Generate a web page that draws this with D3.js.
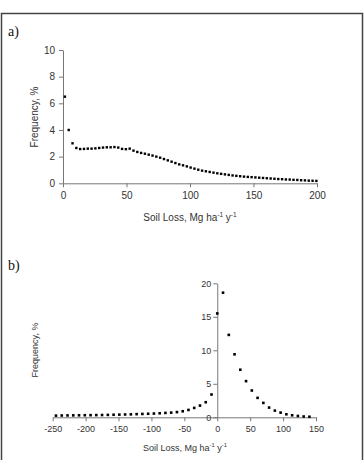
<!DOCTYPE html>
<html>
<head>
<meta charset="utf-8">
<script src="https://cdn.jsdelivr.net/npm/d3@7"></script>
<style>
  body { margin: 0; background: #fff; }
  .tick text { fill: #333; font-family: "Liberation Sans", Arial, sans-serif; }
  .domain, .tick line { stroke: #777; }
  .title { fill: #333; font-family: "Liberation Sans", Arial, sans-serif; }
  .panel-label { fill: #111; font-family: "Liberation Serif", "Times New Roman", serif; font-size: 14px; }
</style>
</head>
<body>
<div id="chart"></div>
<script>
const WIDTH = 364;
const HEIGHT = 460;

// a) soil loss frequency, bin centres (Mg ha-1 y-1) and frequency (%)
const lossA = [1.5, 4.5, 7.5, 10.5, 13.5, 16.5, 19.5, 22.5, 25.5, 28.5, 31.5, 34.5, 37.5, 40.5, 43.5,
  46.5, 49.5, 52.5, 55.5, 58.5, 61.5, 64.5, 67.5, 70.5, 73.5, 76.5, 79.5, 82.5, 85.5, 88.5, 91.5,
  94.5, 97.5, 100.5, 103.5, 106.5, 109.5, 112.5, 115.5, 118.5, 121.5, 124.5, 127.5, 130.5, 133.5,
  136.5, 139.5, 142.5, 145.5, 148.5, 151.5, 154.5, 157.5, 160.5, 163.5, 166.5, 169.5, 172.5, 175.5,
  178.5, 181.5, 184.5, 187.5, 190.5, 193.5, 196.5, 199.5];
const freqA = [6.5, 4.0, 3.0, 2.65, 2.57, 2.58, 2.6, 2.6, 2.62, 2.65, 2.68, 2.7, 2.7, 2.72, 2.68,
  2.58, 2.56, 2.6, 2.45, 2.35, 2.28, 2.22, 2.15, 2.08, 2.0, 1.92, 1.82, 1.72, 1.62, 1.52, 1.42,
  1.35, 1.27, 1.18, 1.1, 1.02, 0.95, 0.9, 0.85, 0.8, 0.75, 0.71, 0.67, 0.63, 0.59,
  0.56, 0.53, 0.5, 0.48, 0.46, 0.44, 0.42, 0.4, 0.38, 0.36, 0.34, 0.32, 0.31, 0.29,
  0.28, 0.26, 0.25, 0.23, 0.22, 0.2, 0.19, 0.18];

// b) soil loss frequency including deposition (negative values)
const lossB = [-245, -236.25, -227.5, -218.75, -210, -201.25, -192.5, -183.75, -175, -166.25,
  -157.5, -148.75, -140, -131.25, -122.5, -113.75, -105, -96.25, -87.5, -78.75, -70, -61.25,
  -52.5, -43.75, -35, -26.25, -17.5, -8.75, 0, 8.75, 17.5, 26.25, 35, 43.75, 52.5, 61.25, 70,
  78.75, 87.5, 96.25, 105, 113.75, 122.5, 131.25, 140];
const freqB = [0.25, 0.27, 0.28, 0.29, 0.3, 0.31, 0.32, 0.33, 0.34, 0.36,
  0.38, 0.4, 0.42, 0.44, 0.47, 0.5, 0.53, 0.56, 0.6, 0.65, 0.7, 0.78,
  0.9, 1.1, 1.4, 1.75, 2.25, 3.4, 15.5, 18.6, 12.3, 9.4, 7.1, 5.4, 4.0, 2.9, 2.15,
  1.45, 1.0, 0.7, 0.45, 0.3, 0.2, 0.12, 0.08];

const ticksAX = [0, 50, 100, 150, 200];
const ticksAY = [0, 2, 4, 6, 8, 10];
const ticksBX = [-250, -200, -150, -100, -50, 0, 50, 100, 150];
const ticksBY = [0, 5, 10, 15, 20];

// plain hyphen for negatives, like the original spreadsheet chart
const plain = d => String(d);

function setCanvas() {
  let svg = d3.select("#chart")
    .append("svg")
    .attr("width", WIDTH)
    .attr("height", HEIGHT);

  // frame round both panels
  svg.append("rect")
    .attr("x", 1.5).attr("y", 13.5)
    .attr("width", 361).attr("height", 460)
    .attr("fill", "none")
    .attr("stroke", "#444")
    .attr("stroke-width", 1.5);
  return svg;
}

// x title with superscripts: Soil Loss, Mg ha-1 y-1
function xTitle(g, x, y, size) {
  let t = g.append("text")
    .attr("class", "title")
    .attr("x", x).attr("y", y)
    .attr("text-anchor", "middle")
    .style("font-size", size + "px");
  t.append("tspan").text("Soil Loss, Mg ha");
  t.append("tspan").attr("dy", -size * 0.35).style("font-size", (size * 0.65) + "px").text("-1");
  t.append("tspan").attr("dy", size * 0.35).text(" y");
  t.append("tspan").attr("dy", -size * 0.35).style("font-size", (size * 0.65) + "px").text("-1");
}

function yTitle(g, x, y, size) {
  g.append("text")
    .attr("class", "title")
    .attr("transform", "translate(" + x + "," + y + ") rotate(-90)")
    .attr("text-anchor", "middle")
    .attr("dy", "0.35em")
    .style("font-size", size + "px")
    .text("Frequency, %");
}

function drawPanelA(svg) {
  let xScale = d3.scaleLinear().domain([0, 200]).range([63, 317]);
  let yScale = d3.scaleLinear().domain([0, 10]).range([183.3, 50]);
  let g = svg.append("g");

  g.append("g")
    .attr("transform", "translate(0," + yScale(0) + ")")
    .call(d3.axisBottom(xScale).tickValues(ticksAX).tickFormat(plain).tickSize(4).tickSizeOuter(0).tickPadding(5))
    .call(a => a.selectAll("text").style("font-size", "10px"));

  g.append("g")
    .attr("transform", "translate(" + xScale(0) + ",0)")
    .call(d3.axisLeft(yScale).tickValues(ticksAY).tickFormat(plain).tickSize(4).tickSizeOuter(0).tickPadding(4))
    .call(a => a.selectAll("text").style("font-size", "10px"));

  g.selectAll(".dotA")
    .data(lossA.map((d, i) => ({ x: d, y: freqA[i] })))
    .enter()
    .append("rect")
    .attr("x", d => xScale(d.x) - 1.2)
    .attr("y", d => yScale(d.y) - 1.2)
    .attr("width", 2.4).attr("height", 2.4)
    .attr("fill", "#000");

  xTitle(g, 190, 220.5, 10);
  yTitle(g, 34, 117, 10);
  g.append("text").attr("class", "panel-label").attr("x", 8).attr("y", 36).text("a)");
}

function drawPanelB(svg) {
  let xScale = d3.scaleLinear().domain([-250, 150]).range([52.7, 316]);
  let yScale = d3.scaleLinear().domain([0, 20]).range([417.3, 283.3]);
  let g = svg.append("g");

  g.append("g")
    .attr("transform", "translate(0," + yScale(0) + ")")
    .call(d3.axisBottom(xScale).tickValues(ticksBX).tickFormat(plain).tickSize(4).tickSizeOuter(0).tickPadding(4))
    .call(a => a.selectAll("text").style("font-size", "9px"));

  g.append("g")
    .attr("transform", "translate(" + xScale(0) + ",0)")
    .call(d3.axisLeft(yScale).tickValues(ticksBY).tickFormat(plain).tickSize(4).tickSizeOuter(0).tickPadding(2))
    .call(a => a.selectAll("text").style("font-size", "9px"));

  g.selectAll(".dotB")
    .data(lossB.map((d, i) => ({ x: d, y: freqB[i] })))
    .enter()
    .append("rect")
    .attr("x", d => xScale(d.x) - 1.3)
    .attr("y", d => yScale(d.y) - 1.3)
    .attr("width", 2.6).attr("height", 2.6)
    .attr("fill", "#000");

  xTitle(g, 185, 450.5, 9);
  yTitle(g, 35, 350, 9);
  g.append("text").attr("class", "panel-label").attr("x", 8).attr("y", 270).text("b)");
}

let canvas = setCanvas();
drawPanelA(canvas);
drawPanelB(canvas);
</script>
</body>
</html>
